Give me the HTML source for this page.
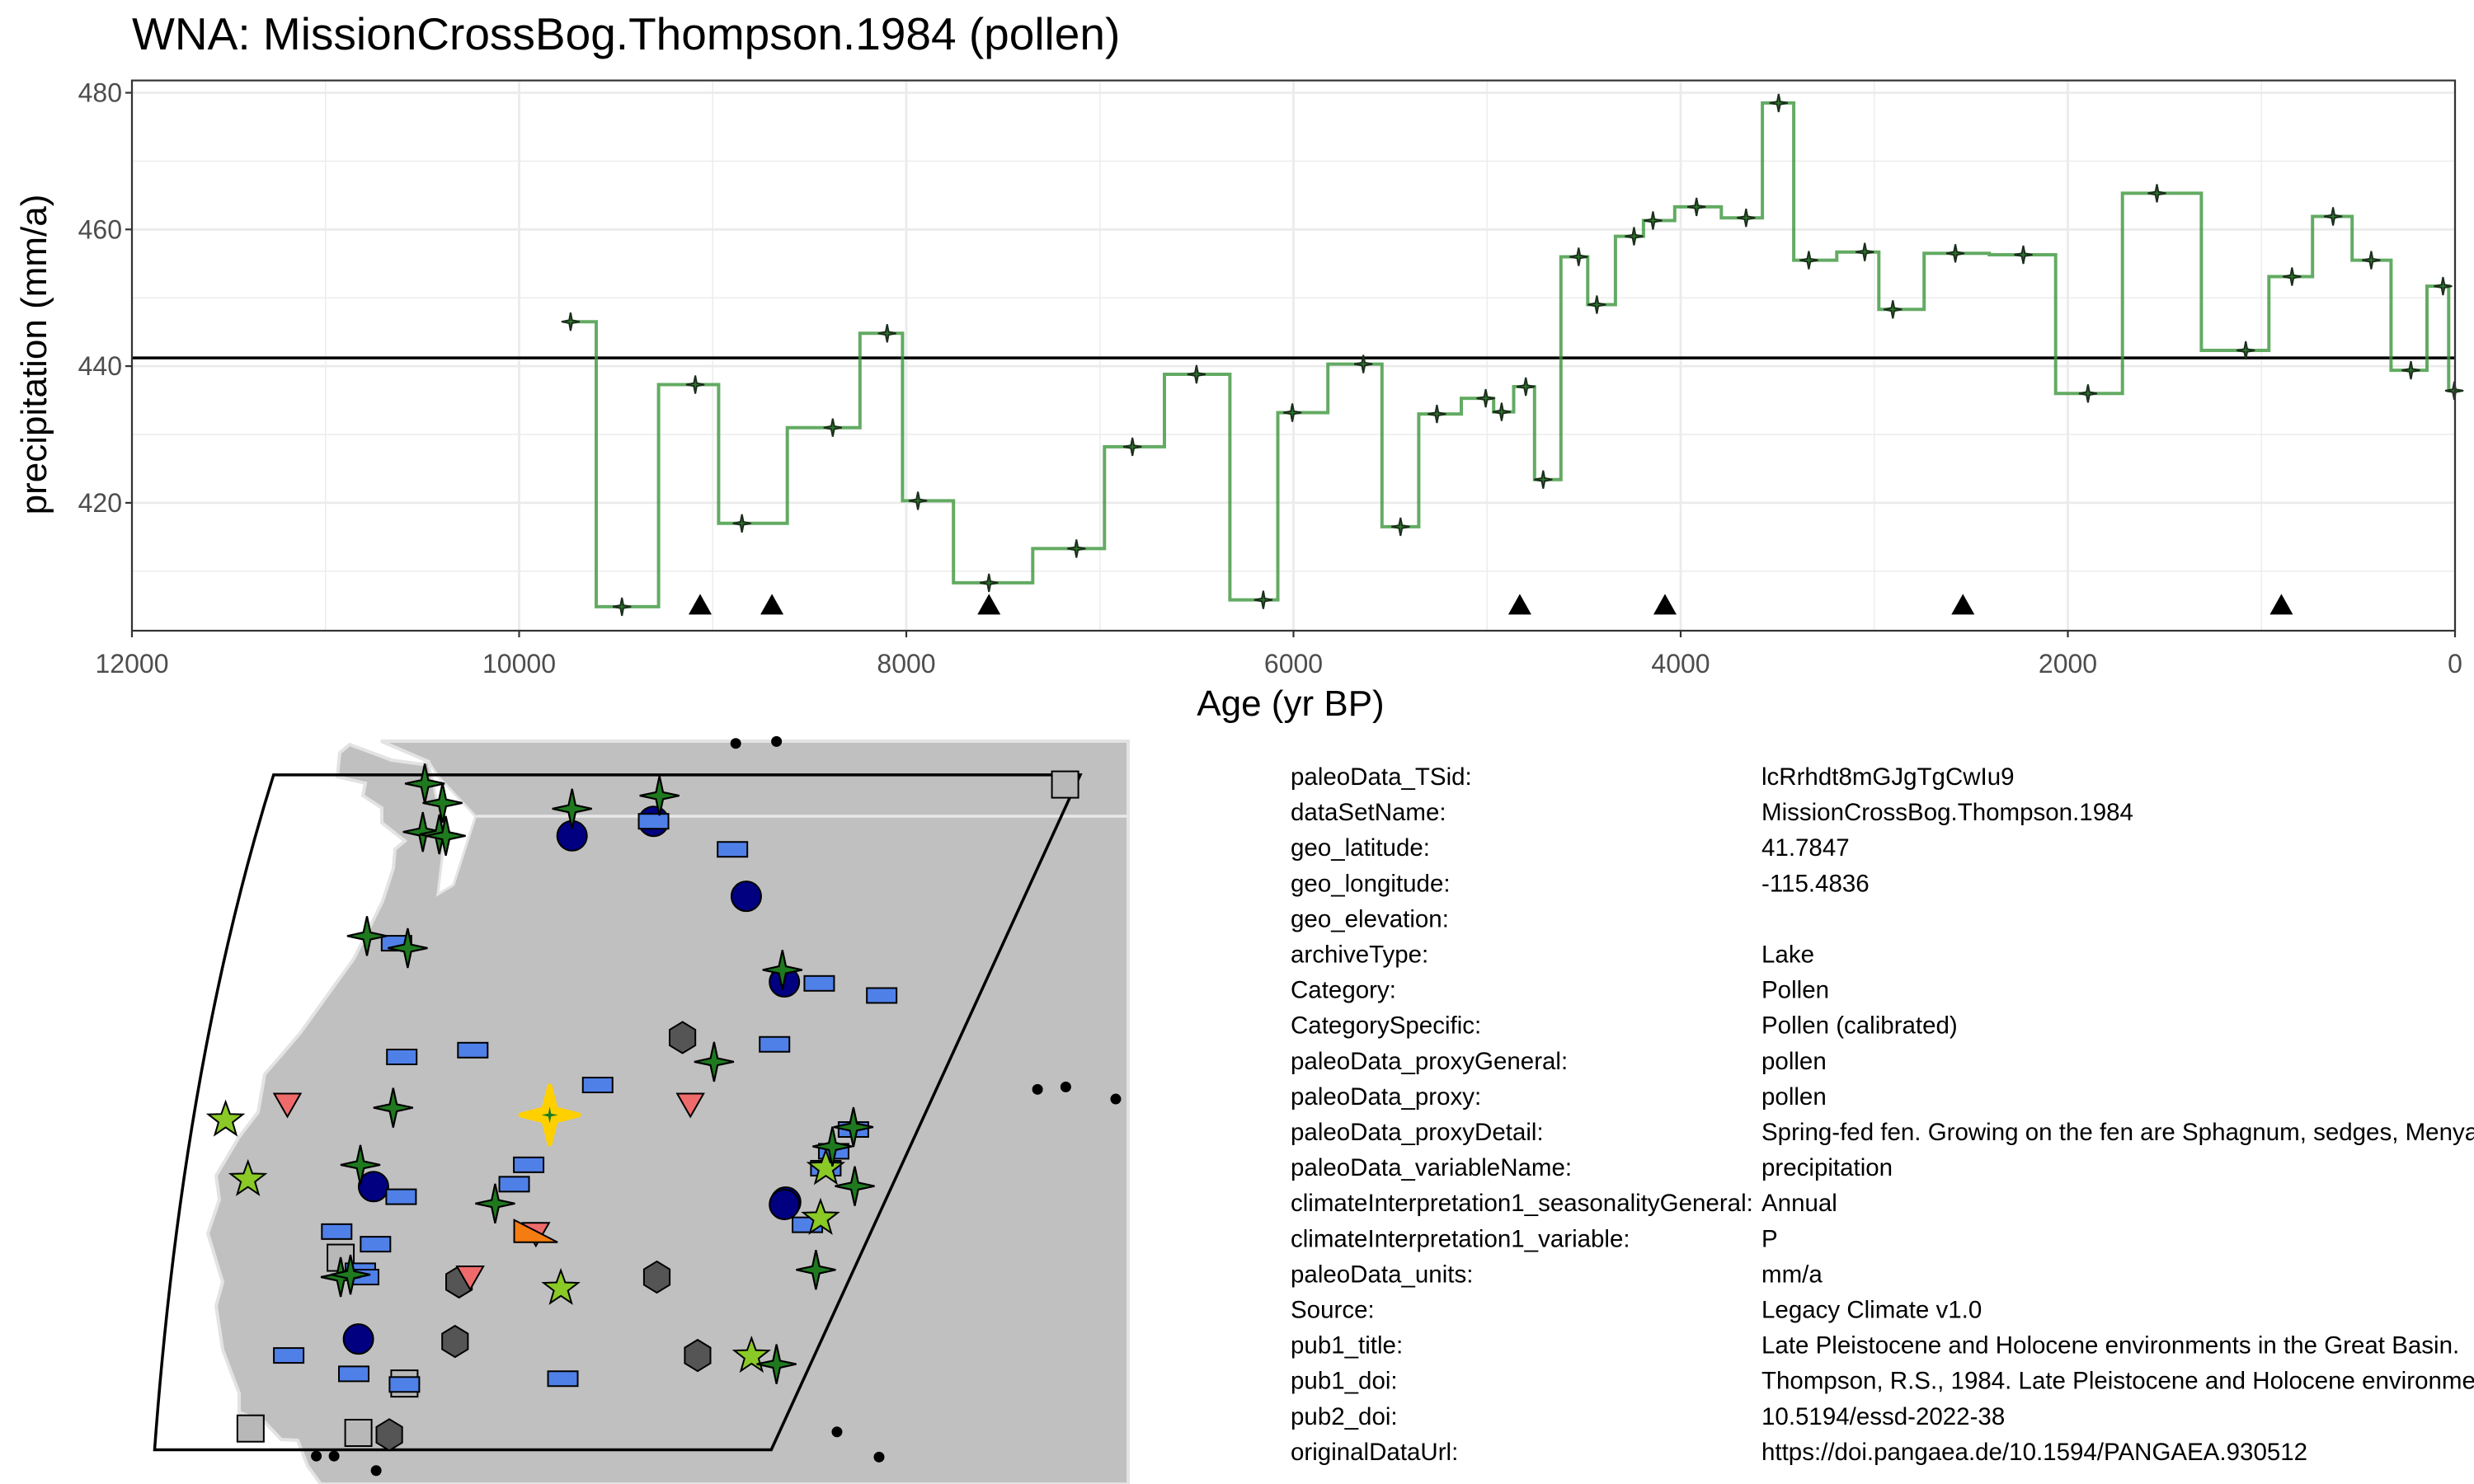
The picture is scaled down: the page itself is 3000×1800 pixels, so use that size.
<!DOCTYPE html>
<html><head><meta charset="utf-8">
<style>
html,body{margin:0;padding:0;background:#fff;}
#wrap{position:relative;width:3000px;height:1800px;overflow:hidden;font-family:"Liberation Sans",sans-serif;}
svg{position:absolute;left:0;top:0;}
</style></head>
<body>
<div id="wrap">
<svg id="chart" width="3000" height="1800" viewBox="0 0 3000 1800">
  <text x="160" y="60" font-size="55" fill="#000" font-family="Liberation Sans, sans-serif">WNA: MissionCrossBog.Thompson.1984 (pollen)</text>
  <g id="grid"></g>
  <g id="series"></g>
  <g id="axes"></g>
  <text x="1565" y="868" font-size="44" text-anchor="middle" fill="#000">Age (yr BP)</text>
  <text transform="translate(56,430) rotate(-90)" font-size="44" text-anchor="middle" fill="#000">precipitation (mm/a)</text>
  <g id="map"></g>
  <g id="meta"></g>
</svg>
</div>
<script>
const ages = [9734,9469,9090,8849,8380,8099,7940,7573,7121,6832,6501,6156,6006,5639,5447,5259,5007,4925,4800,4710,4527,4433,4241,4143,3918,3662,3494,3338,3049,2904,2581,2230,1896,1540,1081,842,630,433,228,62,4];
const values = [446.5,404.8,437.3,417.0,431.0,444.8,420.3,408.3,413.3,428.2,438.8,405.8,433.2,440.3,416.5,433.0,435.3,433.3,437.0,423.4,456.0,449.0,459.0,461.3,463.3,461.7,478.5,455.5,456.7,448.3,456.5,456.3,436.0,465.3,442.3,453.1,461.9,455.5,439.4,451.7,436.4];
const chronAges = [9065,8694,7573,4831,4081,2542,897];
const meanValue = 441.2;
const xTicks = [12000,10000,8000,6000,4000,2000,0];
const xMinor = [11000,9000,7000,5000,3000,1000];
const yTicks = [420,440,460,480];
const yMinor = [410,430,450,470];

const NS='http://www.w3.org/2000/svg';
const P={l:160,r:2977,t:97.6,b:765};
const X=a=>P.l+(12000-a)/12000*(P.r-P.l);
const Y=v=>112.5+(480-v)*8.29;
function mk(tag,attrs,parent){const e=document.createElementNS(NS,tag);for(const k in attrs)e.setAttribute(k,attrs[k]);parent.appendChild(e);return e;}
const grid=document.getElementById('grid'),ser=document.getElementById('series'),ax=document.getElementById('axes');
mk('rect',{x:P.l,y:P.t,width:P.r-P.l,height:P.b-P.t,fill:'#fff'},grid);
xMinor.forEach(a=>{const e=mk('line',{x1:X(a),x2:X(a),y1:P.t,y2:P.b,stroke:'#ebebeb','stroke-width':1.4},grid);

});
yMinor.forEach(v=>{const e=mk('line',{x1:P.l,x2:P.r,y1:Y(v),y2:Y(v),stroke:'#ebebeb','stroke-width':1.4},grid);

});
xTicks.forEach(a=>{const e=mk('line',{x1:X(a),x2:X(a),y1:P.t,y2:P.b,stroke:'#ebebeb','stroke-width':2.8},grid);

});
yTicks.forEach(v=>{const e=mk('line',{x1:P.l,x2:P.r,y1:Y(v),y2:Y(v),stroke:'#ebebeb','stroke-width':2.8},grid);

});
const ml=mk('line',{x1:P.l,x2:P.r,y1:Y(meanValue),y2:Y(meanValue),stroke:'#000','stroke-width':3.5},ser);


let d='';const n=ages.length;
for(let i=0;i<n;i++){const a0=i==0?ages[0]:(ages[i-1]+ages[i])/2;const a1=i==n-1?ages[n-1]:(ages[i]+ages[i+1])/2;
d+=(i==0?'M':'L')+X(a0).toFixed(1)+' '+Y(values[i]).toFixed(1)+' L'+X(a1).toFixed(1)+' '+Y(values[i]).toFixed(1)+' ';}
const sp=mk('path',{d:d,fill:'none',stroke:'#3c963c','stroke-opacity':0.8,'stroke-width':4},ser);


function sparkle(cx,cy,R,r){let s='';for(let k=0;k<8;k++){const ang=k*Math.PI/4-Math.PI/2;const rr=k%2==0?R:r;s+=(k?'L':'M')+(cx+rr*Math.cos(ang)).toFixed(1)+' '+(cy+rr*Math.sin(ang)).toFixed(1);}return s+'Z';}
ages.forEach((a,i)=>{const e=mk('path',{d:sparkle(X(a),Y(values[i]),11,2.5),fill:'#2a7a2a',stroke:'#1c2e1c','stroke-width':2},ser);

});
chronAges.forEach(a=>{const x=X(a),y=Y(405.1);const e=mk('path',{d:`M${x-14} ${y+12} L${x+14} ${y+12} L${x} ${y-13} Z`,fill:'#000'},ser);

});
const bd=mk('rect',{x:P.l,y:P.t,width:P.r-P.l,height:P.b-P.t,fill:'none',stroke:'#333','stroke-width':2.2},ax);


xTicks.forEach(a=>{mk('line',{x1:X(a),x2:X(a),y1:P.b,y2:P.b+8,stroke:'#333','stroke-width':2.2},ax);
const t=mk('text',{x:X(a),y:816,'font-size':32,'text-anchor':'middle',fill:'#4d4d4d'},ax);t.textContent=a;

});
yTicks.forEach(v=>{mk('line',{x1:P.l-8,x2:P.l,y1:Y(v),y2:Y(v),stroke:'#333','stroke-width':2.2},ax);
const t=mk('text',{x:P.l-12,y:Y(v)+11,'font-size':32,'text-anchor':'end',fill:'#4d4d4d'},ax);t.textContent=v;

});

const map=document.getElementById('map');
const MX=zx=>150+zx/1.2544, MY=zy=>880+zy/1.704;
const land=[[424,903],[412,913],[409,942],[443,950],[440,965],[463,980],[463,998],[491,1020],[479,1030],[477,1053],[464,1093],[429,1163],[364,1253],[341,1280],[321,1303],[313,1349],[290,1379],[262,1426],[266,1455],[252,1496],[270,1555],[262,1584],[270,1637],[290,1690],[290,1713],[321,1725],[341,1746],[361,1747],[373,1778],[389,1800],[1368,1800],[1368,899],[462,899],[518,923],[512,927],[475,922]];
const lp=mk('polygon',{points:land.map(p=>p.join(',')).join(' '),fill:'#c0c0c0',stroke:'#e3e3e3','stroke-width':4},map);


const inlet=[[965,130],[1000,190],[1115,330],[1045,580],[995,615],[1010,470],[1020,350],[990,260]].map(p=>[150+p[0]/2.613,880+p[1]/3]);
mk('polygon',{points:inlet.map(p=>p.join(',')).join(' '),fill:'#fff',stroke:'#e3e3e3','stroke-width':3},map);
mk('line',{x1:578,y1:990,x2:1368,y2:990,stroke:'#e8e8e8','stroke-width':3.5},map);
const bp=mk('path',{d:`M${MX(228)} ${MY(102)} L${MX(1455)} ${MY(102)} L${MX(985)} ${MY(1497)} L${MX(47)} ${MY(1497)} Q${MX(90)} ${MY(700)} ${MX(228)} ${MY(102)} Z`,fill:'none',stroke:'#000','stroke-width':3.5},map);



const dots=[[931,37],[993,33],[1390,752],[1433,747],[1509,772],[1085,1460],[1149,1512],[293,1510],[320,1510],[384,1540]];
const rects=[[806,198],[926,256],[415,450],[1058,533],[1153,558],[423,685],[531,671],[990,659],[721,743],[616,908],[594,948],[422,974],[1110,835],[1080,880],[1068,915],[1040,1032],[324,1046],[383,1072],[360,1127],[365,1140],[251,1302],[350,1340],[427,1362],[668,1350]];
const circles=[[682,228],[806,198],[947,353],[1005,530],[380,953],[1007,985],[1005,990],[357,1268]];
const sparks=[[458,120],[485,160],[455,220],[480,225],[490,228],[682,172],[815,145],[370,435],[432,460],[1002,505],[898,695],[410,790],[360,908],[565,988],[1110,830],[1078,870],[1112,952],[1053,1125],[330,1140],[345,1135],[993,1320]];
const hexes=[[850,645],[510,1150],[811,1140],[504,1273],[873,1302],[404,1466]];
const squares=[[1432,122],[330,1100],[427,1360],[193,1453],[357,1462]];
const stars=[[155,812],[189,935],[1068,912],[1060,1015],[665,1160],[955,1300]];
const tris=[[249,783],[862,783],[627,1050],[527,1140]];

dots.forEach(p=>{const e=mk('circle',{cx:MX(p[0]),cy:MY(p[1]),r:6.5,fill:'#000'},map);

});
squares.forEach(p=>{const x=MX(p[0]),y=MY(p[1]);const e=mk('rect',{x:x-16,y:y-16,width:32,height:32,fill:'#b8b8b8',stroke:'#000','stroke-width':2},map);

});
hexes.forEach(p=>{const x=MX(p[0]),y=MY(p[1]);let s='';for(let k=0;k<6;k++){const a=k*Math.PI/3-Math.PI/2;s+=(x+18*Math.cos(a)).toFixed(1)+','+(y+19*Math.sin(a)).toFixed(1)+' ';}
const e=mk('polygon',{points:s,fill:'#555',stroke:'#000','stroke-width':2},map);

});
tris.forEach(p=>{const x=MX(p[0]),y=MY(p[1]);const e=mk('polygon',{points:`${x-16},${y-13} ${x+16},${y-13} ${x},${y+15}`,fill:'#ef6b6b',stroke:'#000','stroke-width':2},map);

});
const ot=mk('polygon',{points:`${MX(594)},${MY(1022)} ${MX(594)},${MY(1068)} ${MX(660)},${MY(1068)}`,fill:'#f57c10',stroke:'#000','stroke-width':2},map);


circles.forEach(p=>{const e=mk('ellipse',{cx:MX(p[0]),cy:MY(p[1]),rx:18,ry:18,fill:'#000080',stroke:'#000','stroke-width':2},map);

});
rects.forEach(p=>{const x=MX(p[0]),y=MY(p[1]);const e=mk('rect',{x:x-18,y:y-9,width:36,height:18,fill:'#4f80e8',stroke:'#000','stroke-width':2},map);

});
stars.forEach(p=>{const x=MX(p[0]),y=MY(p[1]);let s='';for(let k=0;k<10;k++){const a=k*Math.PI/5-Math.PI/2;const r=k%2==0?22:9;s+=(x+r*Math.cos(a)).toFixed(1)+','+(y+2+r*Math.sin(a)).toFixed(1)+' ';}
const e=mk('polygon',{points:s,fill:'#8ac926',stroke:'#000','stroke-width':2},map);

});
sparks.forEach(p=>{const e=mk('path',{d:sparkle(MX(p[0]),MY(p[1]),24,6),fill:'#1f7a1f',stroke:'#000','stroke-width':2.2},map);

});
const tg=mk('path',{d:sparkle(MX(648),MY(805),35,10),fill:'#ffd000',stroke:'#ffd000','stroke-width':6,'stroke-linejoin':'round'},map);


mk('path',{d:sparkle(MX(648),MY(805),10,2.5),fill:'#1f7a1f'},map);

const labels=['paleoData_TSid:','dataSetName:','geo_latitude:','geo_longitude:','geo_elevation:','archiveType:','Category:','CategorySpecific:','paleoData_proxyGeneral:','paleoData_proxy:','paleoData_proxyDetail:','paleoData_variableName:','climateInterpretation1_seasonalityGeneral:','climateInterpretation1_variable:','paleoData_units:','Source:','pub1_title:','pub1_doi:','pub2_doi:','originalDataUrl:'];
const vals=['lcRrhdt8mGJgTgCwIu9','MissionCrossBog.Thompson.1984','41.7847','-115.4836','','Lake','Pollen','Pollen (calibrated)','pollen','pollen','Spring-fed fen. Growing on the fen are Sphagnum, sedges, Menyanthes','precipitation','Annual','P','mm/a','Legacy Climate v1.0','Late Pleistocene and Holocene environments in the Great Basin.','Thompson, R.S., 1984. Late Pleistocene and Holocene environments in the Great Basin','10.5194/essd-2022-38','https://doi.pangaea.de/10.1594/PANGAEA.930512'];
const meta=document.getElementById('meta');
labels.forEach((l,i)=>{const y=952+i*43.1;
const a=mk('text',{x:1565,y:y,'font-size':29.5,fill:'#000'},meta);a.textContent=l;


const b=mk('text',{x:2136,y:y,'font-size':29.5,fill:'#000'},meta);b.textContent=vals[i];

});
</script>
</body></html>
